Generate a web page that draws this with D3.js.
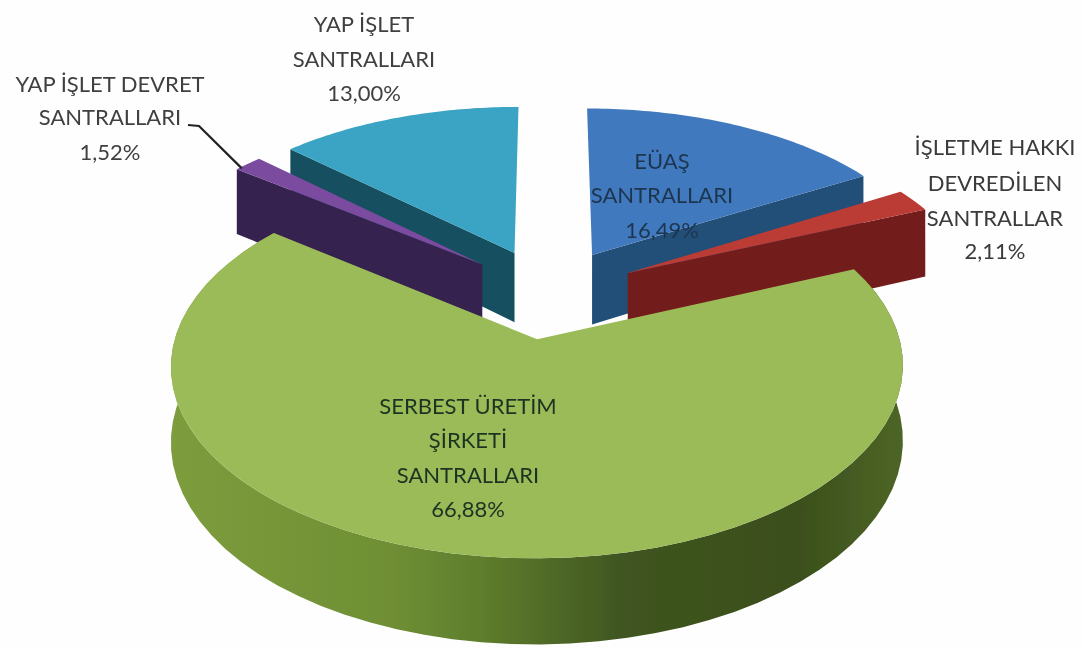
<!DOCTYPE html>
<html><head><meta charset="utf-8">
<script src="https://cdn.jsdelivr.net/npm/d3@7"></script>
<style>html,body{margin:0;padding:0;background:#fff}svg{display:block}text{font-family:Lato,"Open Sans",sans-serif;font-size:22px;text-anchor:middle}</style>
</head><body><div id="c"></div>
<script>
const categories=["EÜAŞ SANTRALLARI","İŞLETME HAKKI DEVREDİLEN SANTRALLAR","SERBEST ÜRETİM ŞİRKETİ SANTRALLARI","YAP İŞLET DEVRET SANTRALLARI","YAP İŞLET SANTRALLARI"];
const values=[16.49,2.11,66.88,1.52,13.00];
const labelLines=[["EÜAŞ","SANTRALLARI"],["İŞLETME HAKKI","DEVREDİLEN","SANTRALLAR"],["SERBEST ÜRETİM","ŞİRKETİ","SANTRALLARI"],["YAP İŞLET DEVRET","SANTRALLARI"],["YAP İŞLET","SANTRALLARI"]];
const topColors=["#4179bd","#bb3a35","#9bbb59","#7a4b9e","#3aa3c3"];
const wallColors=["#234f78","#731a1a",null,"#36204f","#15505f"];
const textColors=["#1f3550","#3a3a3a","#1d3320","#3f3f3f","#3f3f3f"];
const labelX=[662,995,468,110,364];
const labelBase=[[169,203,238],[155,191,226,259],[414,448,483,517],[92,125,160],[32,67,101]];
const greenStops=[[0,"#7c9c3c"],[.3,"#6f8f35"],[.42,"#5f7e2d"],[.62,"#3f5420"],[.85,"#3b4f1c"],[1,"#4e6626"]];

const W=1084,H=650;
const cam={x0:549,y0:293,f:350,g:175.8,k:.135,depth:71.5,explode:.256};
const project=(x,y,z)=>{const w=1+cam.k*y;return [cam.x0+cam.f*x/w,cam.y0+(-cam.g*y+cam.depth*z)/w];};
const svg=d3.select("#c").append("svg").attr("width",W).attr("height",H);
svg.append("rect").attr("width",W).attr("height",H).attr("fill","#fefefe");
const defs=svg.append("defs");
defs.append("filter").attr("id","soft").append("feGaussianBlur").attr("stdDeviation",.5);
const lg=defs.append("linearGradient").attr("id","gw").attr("gradientUnits","userSpaceOnUse").attr("x1",170).attr("x2",907).attr("y1",0).attr("y2",0);
greenStops.forEach(s=>lg.append("stop").attr("offset",s[0]).attr("stop-color",s[1]));

const arcs=d3.pie().sort(null).value(d=>d)(values).map((a,i)=>{
  const mid=(a.startAngle+a.endAngle)/2;
  return {...a,i,cx:cam.explode*Math.sin(mid),cy:cam.explode*Math.cos(mid)};
});
const line=d3.line();
const rim=(a,t,z)=>project(a.cx+Math.sin(t),a.cy+Math.cos(t),z);
const apex=(a,z)=>project(a.cx,a.cy,z);
const sweep=(a,z)=>d3.range(0,61).map(j=>rim(a,a.startAngle+(a.endAngle-a.startAngle)*j/60,z));

const order=arcs.slice().sort((p,q)=>q.cy-p.cy);
const g=svg.append("g").attr("filter","url(#soft)");
order.forEach(a=>{
  const s=g.append("g");
  const side=t=>s.append("path").attr("d",line([apex(a,0),rim(a,t,0),rim(a,t,1),apex(a,1)])+"Z").attr("fill",wallColors[a.i]||"url(#gw)");
  if(Math.sin(a.startAngle)<-1e-6) side(a.startAngle);
  if(Math.sin(a.endAngle)>1e-6) side(a.endAngle);
  if(Math.cos((a.startAngle+a.endAngle)/2)<-.5){
    s.append("path").attr("d",line(sweep(a,0).concat(sweep(a,1).reverse()))+"Z").attr("fill","url(#gw)");
  }
  s.append("path").attr("d",line([apex(a,0),...sweep(a,0)])+"Z").attr("fill",topColors[a.i]);
});

// leader for the small slice
const pur=arcs[3];
const tip=rim(pur,pur.startAngle+(pur.endAngle-pur.startAngle)*.55,0);
svg.append("path").attr("d",line([[188,125],[199,126],[tip[0]-7,tip[1]+5]])).attr("fill","none").attr("stroke","#222").attr("stroke-width",2.2);

const fmt=v=>v.toFixed(2).replace(".",",")+"%";
const t=svg.append("g").attr("filter","url(#soft)");
arcs.forEach(a=>{
  labelLines[a.i].concat([fmt(values[a.i])]).forEach((l,j)=>{
    t.append("text").attr("x",labelX[a.i]).attr("y",labelBase[a.i][j]).attr("fill",textColors[a.i]).text(l);
  });
});
</script></body></html>
